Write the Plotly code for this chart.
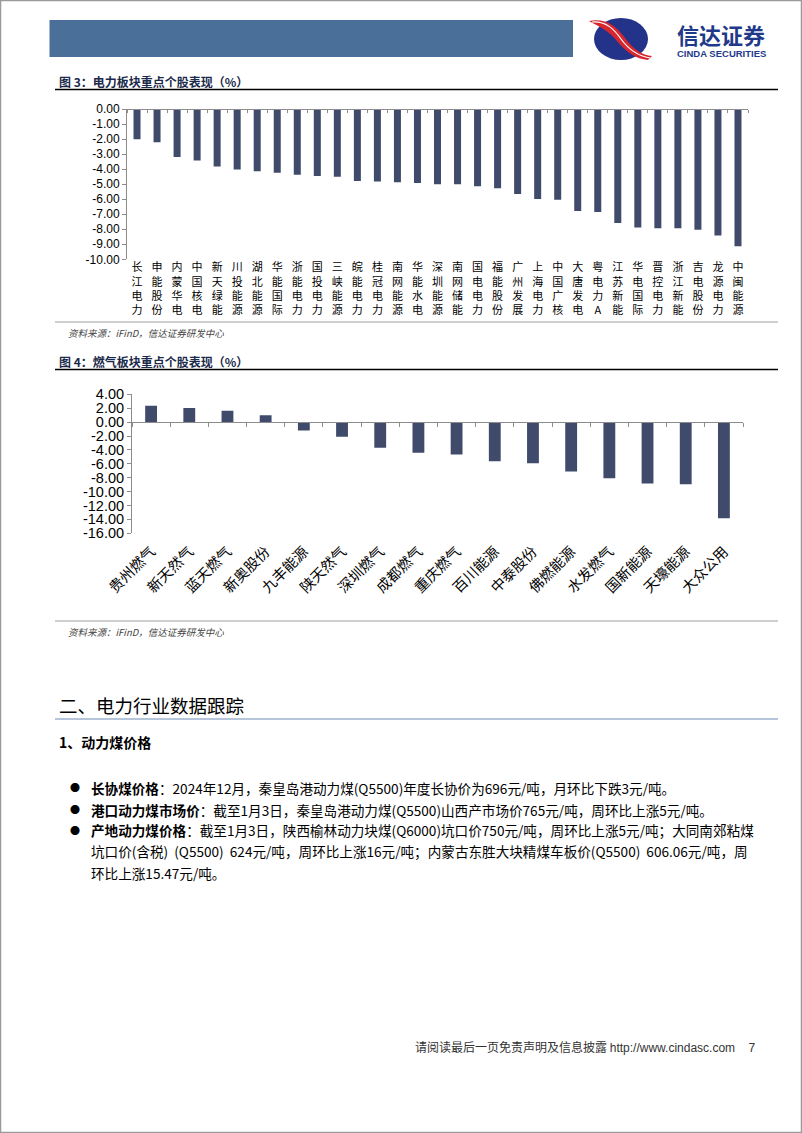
import plotly.graph_objects as go

W, H = 802, 1133

# ---- data ----
power_names = ["长江电力", "申能股份", "内蒙华电", "中国核电", "新天绿能", "川投能源", "湖北能源",
               "华能国际", "浙能电力", "国投电力", "三峡能源", "皖能电力", "桂冠电力", "南网能源",
               "华能水电", "深圳能源", "南网储能", "国电电力", "福能股份", "广州发展", "上海电力",
               "中国广核", "大唐发电", "粤电力A", "江苏新能", "华电国际", "晋控电力", "浙江新能",
               "吉电股份", "龙源电力", "中闽能源"]
power_vals = [-2.02, -2.22, -3.19, -3.43, -3.82, -4.03, -4.15, -4.24, -4.37, -4.46, -4.50,
              -4.79, -4.83, -4.88, -4.92, -5.01, -5.01, -5.14, -5.28, -5.66, -5.99, -6.03,
              -6.79, -6.85, -7.58, -7.89, -7.94, -7.94, -8.03, -8.41, -9.14]
power_ticks = [0, -1, -2, -3, -4, -5, -6, -7, -8, -9, -10]

gas_names = ["贵州燃气", "新天然气", "蓝天燃气", "新奥股份", "九丰能源", "陕天然气", "深圳燃气",
             "成都燃气", "重庆燃气", "百川能源", "中泰股份", "佛燃能源", "水发燃气", "国新能源",
             "天壕能源", "大众公用"]
gas_vals = [2.37, 2.02, 1.64, 0.97, -1.20, -2.11, -3.70, -4.42, -4.66, -5.63, -5.92, -7.11,
            -8.08, -8.85, -8.95, -13.85]
gas_ticks = [4, 2, 0, -2, -4, -6, -8, -10, -12, -14, -16]

bullets = [
    ("长协煤价格", "：2024年12月，秦皇岛港动力煤(Q5500)年度长协价为696元/吨，月环比下跌3元/吨。"),
    ("港口动力煤市场价", "：截至1月3日，秦皇岛港动力煤(Q5500)山西产市场价765元/吨，周环比上涨5元/吨。"),
    ("产地动力煤价格", "：截至1月3日，陕西榆林动力块煤(Q6000)坑口价750元/吨，周环比上涨5元/吨；大同南郊粘煤"),
]
bullet_cont = ["坑口价(含税)  (Q5500)  624元/吨，周环比上涨16元/吨；内蒙古东胜大块精煤车板价(Q5500)  606.06元/吨，周",
               "环比上涨15.47元/吨。"]

BAR = "#404B6C"
AX = "#8C8C8C"
CJK = "Noto Sans CJK SC"
ARIAL = "Liberation Sans"


def px(x):
    return x / W


def py(y):
    return 1 - y / H


fig = go.Figure()

# ---- chart 1 (power) ----
d1x = [px(127), px(748)]
d1y = [py(259.3), py(109)]
fig.add_trace(go.Bar(x=["<br>".join(n) for n in power_names], y=power_vals, marker_color=BAR,
                     xaxis="x", yaxis="y", hoverinfo="skip"))
fig.add_trace(go.Scatter(x=list(range(len(power_vals))), y=[0] * len(power_vals), mode="markers",
                         marker=dict(opacity=0), xaxis="x2", yaxis="y", hoverinfo="skip"))

# ---- chart 2 (gas) ----
d2x = [px(132), px(743)]
d2y = [py(533.3), py(394.3)]
fig.add_trace(go.Bar(x=gas_names, y=gas_vals, marker_color=BAR, xaxis="x3", yaxis="y3",
                     hoverinfo="skip", width=0.31))
fig.add_trace(go.Scatter(x=list(range(len(gas_vals))), y=[0] * len(gas_vals), mode="markers",
                         marker=dict(opacity=0), xaxis="x4", yaxis="y3", hoverinfo="skip"))

n1, n2 = len(power_vals), len(gas_vals)
zero2 = d2y[0] + (0 - gas_ticks[-1]) / (gas_ticks[0] - gas_ticks[-1]) * (d2y[1] - d2y[0])

yax = dict(showgrid=False, zeroline=False, showline=True, linecolor=AX, linewidth=1,
           ticks="outside", ticklen=4, tickcolor=AX, fixedrange=True, automargin=False)
fig.update_layout(
    template="none",
    xaxis=dict(domain=d1x, anchor="y", type="category", range=[-0.5, n1 - 0.5], showline=False,
               ticks="", showgrid=False, zeroline=False, automargin=False,
               tickfont=dict(family=CJK, size=11, color="#000")),
    yaxis=dict(domain=d1y, anchor="x", range=[power_ticks[-1], power_ticks[0]],
               tickvals=power_ticks, ticktext=[f"{v:.2f}" for v in power_ticks],
               tickfont=dict(family=ARIAL, size=12, color="#000"), **yax),
    xaxis2=dict(overlaying="x", anchor="free", position=d1y[1], range=[-0.5, n1 - 0.5],
                tickvals=[i - 0.5 for i in range(n1 + 1)], showticklabels=False, showgrid=False,
                zeroline=False, showline=True, linecolor=AX, ticks="outside", ticklen=3,
                tickcolor=AX, automargin=False),
    xaxis3=dict(domain=d2x, anchor="y3", type="category", range=[-0.5, n2 - 0.5], showline=False,
                ticks="", showgrid=False, zeroline=False, tickangle=-45, automargin=False,
                ticklabelstandoff=6, tickfont=dict(family=CJK, size=14.5, color="#000")),
    yaxis3=dict(domain=d2y, anchor="x3", range=[gas_ticks[-1], gas_ticks[0]],
                tickvals=gas_ticks, ticktext=[f"{v:.2f}" for v in gas_ticks],
                tickfont=dict(family=ARIAL, size=14.5, color="#000"), **yax),
    xaxis4=dict(overlaying="x3", anchor="free", position=zero2, range=[-0.5, n2 - 0.5],
                tickvals=[i - 0.5 for i in range(n2 + 1)], showticklabels=False, showgrid=False,
                zeroline=False, showline=True, linecolor=AX, ticks="outside", ticklen=4,
                tickcolor=AX, automargin=False),
    bargap=0.65,
    showlegend=False,
    width=W, height=H,
    margin=dict(l=0, r=0, t=0, b=0, pad=0),
    paper_bgcolor="white", plot_bgcolor="white",
)

shapes = []
annos = []


def hline(y, x0, x1, color, w):
    shapes.append(dict(type="line", xref="paper", yref="paper", x0=px(x0), x1=px(x1),
                       y0=py(y), y1=py(y), line=dict(color=color, width=w)))


def text(x, y, s, size, color="#000", family=CJK, xanchor="left", bold=False, italic=False):
    if bold:
        s = f"<b>{s}</b>"
    if italic:
        s = f"<i>{s}</i>"
    annos.append(dict(xref="paper", yref="paper", x=px(x), y=py(y), text=s, showarrow=False,
                      xanchor=xanchor, yanchor="middle", font=dict(size=size, color=color, family=family)))


# page border and header band
shapes.append(dict(type="rect", xref="paper", yref="paper", x0=px(0.5), x1=px(801.5), y0=py(1132.5),
                   y1=py(0.5), line=dict(color="#9A9A9A", width=1.5)))
shapes.append(dict(type="rect", xref="paper", yref="paper", x0=px(49.5), x1=px(573), y0=py(57),
                   y1=py(20), fillcolor="#4A6F99", line=dict(width=0)))

# logo
shapes.append(dict(type="circle", xref="paper", yref="paper", x0=px(594), x1=px(648), y0=py(60),
                   y1=py(18), fillcolor="#23338A", line=dict(width=0)))


def path(points):
    s = ""
    for cmd, pts in points:
        s += cmd + " " + " ".join(f"{px(a):.5f},{py(b):.5f}" for a, b in pts) + " "
    return s + "Z"


shapes.append(dict(type="path", xref="paper", yref="paper", fillcolor="#D7262E", line=dict(width=0),
                   path=path([("M", [(589, 21)]), ("C", [(606, 18), (616, 26), (625, 38)]),
                              ("C", [(634, 50), (642, 55), (652, 56)]), ("L", [(648, 60)]),
                              ("C", [(636, 59), (626, 52), (617, 41)]),
                              ("C", [(609, 31), (600, 27), (589, 21)])])))
shapes.append(dict(type="path", xref="paper", yref="paper", line=dict(color="white", width=1.2),
                   path=path([("M", [(592, 22)]), ("C", [(606, 21), (614, 29), (621, 39)]),
                              ("C", [(629, 50), (638, 56), (650, 58)])])[:-1]))
text(721, 33.5, "信达证券", 22, color="#1F3A8A", bold=True, xanchor="center")
text(721, 54, "CINDA SECURITIES", 9.5, color="#1F3A8A", family=ARIAL, bold=True, xanchor="center")

# figure 3 headings
text(57, 81, "图 3：电力板块重点个股表现（%）", 12, color="#1B2A4A", bold=True)
hline(89.5, 55, 778, "#000", 1.5)
hline(322, 55, 778, "#A0A0A0", 1.2)
text(66, 333, "资料来源：iFinD，信达证券研发中心", 9.5, color="#444", italic=True)

# figure 4 headings
text(57, 361.5, "图 4：燃气板块重点个股表现（%）", 12, color="#1B2A4A", bold=True)
hline(369.5, 55, 778, "#000", 1.5)
hline(621, 55, 778, "#A0A0A0", 1.2)
text(66, 632, "资料来源：iFinD，信达证券研发中心", 9.5, color="#444", italic=True)

# section heading
text(57, 705, "二、电力行业数据跟踪", 18.5)
hline(719, 55, 778, "#6F8CB6", 1.2)
text(57, 742, "1、动力煤价格", 14, bold=True)

ys = [787.5, 809.5, 830]
for (head, body), y in zip(bullets, ys):
    text(68, y, "●", 10)
    text(89, y, f"<b>{head}</b>{body}", 13.6)
for s, y in zip(bullet_cont, [851, 872.5]):
    text(89, y, s, 13.6)

# footer
text(757, 1046, "请阅读最后一页免责声明及信息披露 <span style='font-family:Liberation Sans'>http://www.cindasc.com    7</span>",
     12, color="#333", xanchor="right")

fig.update_layout(shapes=shapes, annotations=annos)
fig.write_html("out.html", config={"displayModeBar": False},
               post_script="document.body.style.margin='0';")
